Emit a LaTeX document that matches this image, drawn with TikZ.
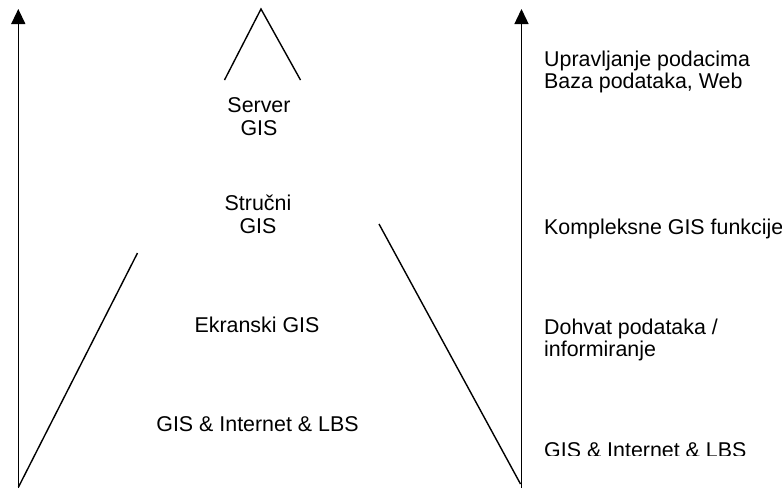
\documentclass[tikz,border=0pt]{standalone}
\usepackage{fontspec}
\setmainfont{Liberation Sans}
\usetikzlibrary{arrows.meta}
\begin{document}
\begin{tikzpicture}[x=1pt,y=-1pt,
  ln/.style={line width=1.4pt,line cap=butt},
  ax/.style={ln,-{Triangle[width=14pt,length=15pt]}},
  lbl/.style={inner sep=0pt,font=\fontsize{21.4}{23}\selectfont,align=center,anchor=base},
  rlbl/.style={inner sep=0pt,font=\fontsize{21.4}{22}\selectfont,align=left,anchor=base west}]
\useasboundingbox (0,0) rectangle (782,488);
% axes
\coordinate (lb) at (18.3,488);
\coordinate (lt) at (18.3,9);
\coordinate (rb) at (521.5,488);
\coordinate (rt) at (521.5,9);
\draw[ax] (lb) -- (lt);
\draw[ax] (rb) -- (rt);
% pyramid sides
\coordinate (sl1) at (18.5,487);
\coordinate (sl2) at (137.5,253);
\coordinate (sr1) at (379,224);
\coordinate (sr2) at (520.5,484);
\draw[ln] (sl1) -- (sl2);
\draw[ln] (sr1) -- (sr2);
% top caret
\coordinate (ca) at (224.5,80);
\coordinate (cp) at (261,9);
\coordinate (cb) at (300.5,80);
\draw[ln] (ca) -- (cp) -- (cb);
% centre labels (base = baseline of last line)
\node[lbl] (server) at (259,135) {Server\\GIS};
\node[lbl] (strucni) at (258,233) {Stručni\\GIS};
\node[lbl] (ekran) at (257,332) {Ekranski GIS};
\node[lbl] (gisl) at (257.5,431) {GIS \& Internet \& LBS};
% right labels
\node[rlbl] (upr) at (544,88.5) {Upravljanje podacima\\Baza podataka, Web};
\node[rlbl] (komp) at (544,234) {Kompleksne GIS funkcije};
\node[rlbl] (dohv) at (544,356.5) {Dohvat podataka /\\informiranje};
\begin{scope}
\clip (530,430) rectangle (782,455.5);
\node[rlbl] (gisr) at (544,457.5) {GIS \& Internet \& LBS};
\end{scope}
\end{tikzpicture}
\end{document}
